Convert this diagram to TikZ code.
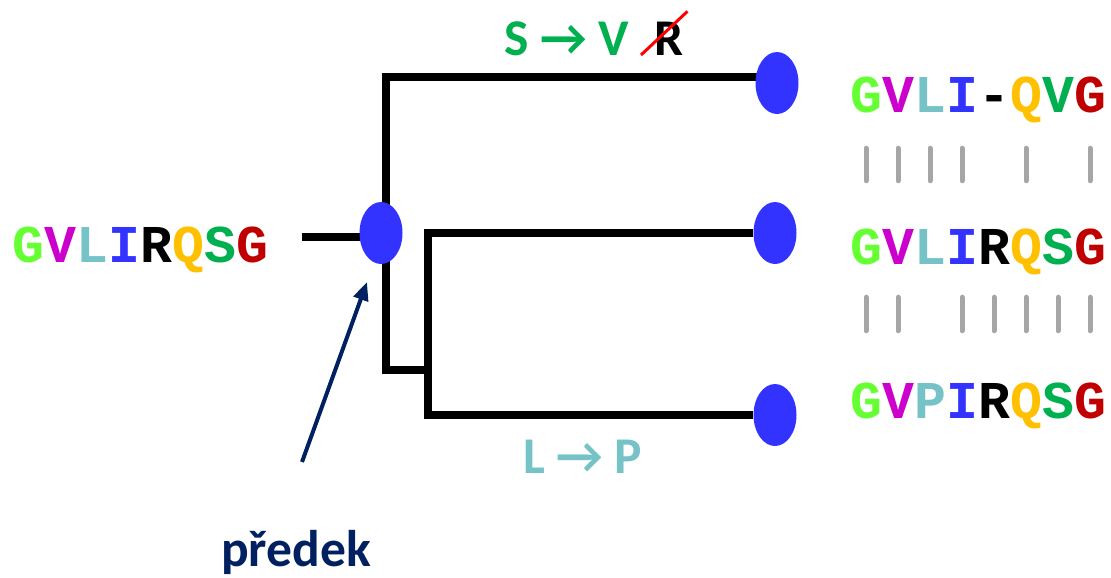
\documentclass[tikz,border=0pt]{standalone}
\usepackage{fontspec}
\usepackage{xcolor}
\usepackage{tikz}
\usetikzlibrary{shapes.geometric, arrows.meta, backgrounds}
\newfontfamily\seqfont{Liberation Mono}
\newfontfamily\labfont{Carlito}
\definecolor{resG}{RGB}{102,255,51}
\definecolor{resV}{RGB}{204,0,204}
\definecolor{resL}{RGB}{117,194,199}
\definecolor{resI}{RGB}{51,51,255}
\definecolor{resQ}{RGB}{255,192,0}
\definecolor{resS}{RGB}{0,176,80}
\definecolor{resGend}{RGB}{192,0,0}
\definecolor{mynavy}{RGB}{0,32,96}
\definecolor{mygrey}{RGB}{166,166,166}
\tikzset{
  res/.style={font={\seqfont\bfseries\fontsize{45.4}{50}\selectfont},
    inner sep=0pt, anchor=base, text height=0.96cm, text depth=0pt},
  mutlab/.style={font={\labfont\bfseries\fontsize{44}{50}\selectfont},
    inner sep=0pt, anchor=base west},
  taxon/.style={ellipse, fill=resI, inner sep=0pt,
    minimum width=1.29cm, minimum height=1.86cm},
  branch/.style={line width=0.24cm, line join=miter},
  match/.style={line width=0.15cm, color=mygrey, line cap=round},
  strike/.style={line width=0.09cm, color=red},
  ancarrow/.style={-{Triangle[length=0.55cm, width=0.45cm]},
    line width=0.12cm, color=mynavy}
}
\begin{document}
\begin{tikzpicture}[x=0.03cm, y=-0.03cm]
  \useasboundingbox (0,0) rectangle (1111,577);
  % ancestral sequence
  \foreach \aa/\cc [count=\k] in {G/resG,V/resV,L/resL,I/resI,R/black,Q/resQ,S/resS,G/resGend}
    \node[res, text=\cc] (anc\k) at ({-4+32*\k},262) {\aa};
  % tree nodes
  \node[taxon] (root) at (381,233) {};
  \node[taxon] (leafA) at (777,83) {};
  \node[taxon] (leafB) at (775,233) {};
  \node[taxon] (leafC) at (775,415) {};
  \coordinate (stem) at (302,237);
  \coordinate (topCorner) at (386,77);
  \coordinate (lowCorner) at (386,370);
  \coordinate (subNode) at (428,370);
  \begin{scope}[on background layer]
    \draw[branch] (stem) -- (stem -| root);
    \draw[branch] (topCorner -| leafA) -- (topCorner) -- (lowCorner) -- (subNode);
    \draw[branch] (leafB) -| (subNode) |- (leafC);
  \end{scope}
  % mutations on the branches
  \node[mutlab, text=resS] (mutSV) at (504,55) {S → V};
  \node[mutlab] (delR) at (654,55) {R};
  \draw[strike] ([xshift=-0.39cm]delR.base west) -- ([xshift=0.12cm, yshift=0.3cm]delR.north east);
  \node[mutlab, text=resL] (mutLP) at (523,473) {L → P};
  % leaf sequences
  \foreach \aa/\cc [count=\k] in {G/resG,V/resV,L/resL,I/resI,-/black,Q/resQ,V/resS,G/resGend}
    \node[res, text=\cc] (top\k) at ({834+32*\k},112) {\aa};
  \foreach \aa/\cc [count=\k] in {G/resG,V/resV,L/resL,I/resI,R/black,Q/resQ,S/resS,G/resGend}
    \node[res, text=\cc] (mid\k) at ({834+32*\k},264) {\aa};
  \foreach \aa/\cc [count=\k] in {G/resG,V/resV,P/resL,I/resI,R/black,Q/resQ,S/resS,G/resGend}
    \node[res, text=\cc] (bot\k) at ({834+32*\k},418) {\aa};
  % identical positions
  \foreach \k in {1,2,3,4,6,8}
    \draw[match, shorten <=1.08cm, shorten >=1.53cm] (top\k.south) -- (mid\k.north);
  \foreach \k in {1,2,4,5,6,7,8}
    \draw[match, shorten <=0.99cm, shorten >=1.65cm] (mid\k.south) -- (bot\k.north);
  % ancestor label
  \node[mutlab, anchor=base, text=mynavy] (predek) at (296,566) {předek};
  \coordinate (ancTail) at (302,462);
  \coordinate (ancTip) at (367,282);
  \draw[ancarrow] (ancTail) -- (ancTip);
\end{tikzpicture}
\end{document}
